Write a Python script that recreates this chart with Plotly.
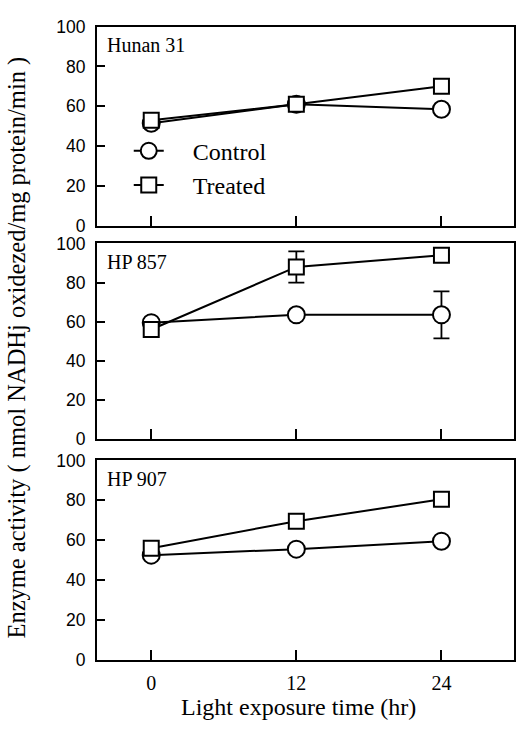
import plotly.graph_objects as go

W, H = 516, 735

hours = [0, 12, 24]
x_ticks = [0, 12, 24]
y_ticks = [0, 20, 40, 60, 80, 100]

panels = ["Hunan 31", "HP 857", "HP 907"]

hunan_control = [51.5, 61, 58.5]
hunan_treated = [53, 61, 70]

hp857_control = [59.5, 63.5, 63.5]
hp857_treated = [56, 88, 94]
hp857_control_err = [0, 0, 12]
hp857_treated_err = [0, 8, 0]

hp907_control = [52.5, 55.5, 59.5]
hp907_treated = [56, 69.5, 80.5]

control_data = [hunan_control, hp857_control, hp907_control]
treated_data = [hunan_treated, hp857_treated, hp907_treated]
control_err = [None, hp857_control_err, None]
treated_err = [None, hp857_treated_err, None]

# pixel layout of panels (top, bottom)
panel_px = [(17, 222), (240, 441), (463, 668)]
x_px = (97, 515)

SERIF = "Liberation Serif, Times New Roman, serif"
SANS = "Liberation Sans, Arial, sans-serif"
PAD = "\u00a0" * 4

fig = go.Figure()

for i in range(3):
    ax = "" if i == 0 else str(i + 1)
    xref = "x" + ax
    yref = "y" + ax
    ce = control_err[i]
    te = treated_err[i]
    fig.add_trace(go.Scatter(
        x=hours, y=control_data[i], mode="lines+markers", name=PAD + "Control",
        xaxis=xref, yaxis=yref, showlegend=(i == 0),
        line=dict(color="black", width=2),
        marker=dict(symbol="circle", size=17, color="white",
                    line=dict(color="black", width=2)),
        error_y=(dict(type="data", array=ce, visible=True, color="black",
                      thickness=1.8, width=8) if ce else None),
        cliponaxis=False,
    ))
    fig.add_trace(go.Scatter(
        x=hours, y=treated_data[i], mode="lines+markers", name=PAD + "Treated",
        xaxis=xref, yaxis=yref, showlegend=(i == 0),
        line=dict(color="black", width=2),
        marker=dict(symbol="square", size=15, color="white",
                    line=dict(color="black", width=2)),
        error_y=(dict(type="data", array=te, visible=True, color="black",
                      thickness=1.8, width=8) if te else None),
        cliponaxis=False,
    ))

    top, bot = panel_px[i]
    fig.layout["xaxis" + ax] = dict(
        domain=[x_px[0] / W, x_px[1] / W], range=[-4.5, 30],
        tickvals=x_ticks, ticktext=[str(v) for v in x_ticks],
        showticklabels=(i == 2), ticks="inside", ticklen=10, tickwidth=1.5,
        tickcolor="black", showline=True, linecolor="black", linewidth=1.5,
        mirror=True, showgrid=False, zeroline=False, ticklabelstandoff=4,
        tickfont=dict(family=SERIF, size=20, color="black"),
        anchor="y" + ax,
    )
    fig.layout["yaxis" + ax] = dict(
        domain=[(H - bot) / H, (H - top) / H], range=[0, 100],
        tickvals=y_ticks, ticks="inside", ticklen=8, tickwidth=1.5,
        tickcolor="black", showline=True, linecolor="black", linewidth=1.5,
        mirror=True, showgrid=False, zeroline=False, ticklabelstandoff=6,
        tickfont=dict(family=SANS, size=17.5, color="black"),
        anchor="x" + ax,
    )
    fig.add_annotation(
        text=panels[i], xref="x" + ax + " domain", yref="y" + ax + " domain",
        x=0.02, y=0.905, xanchor="left", yanchor="middle", showarrow=False,
        font=dict(family=SERIF, size=20, color="black"),
    )

fig.add_annotation(
    text="Enzyme activity ( nmol NADHj oxidezed/mg protein/min )",
    xref="paper", yref="paper", x=17 / W, y=(H - 347) / H,
    textangle=-90, showarrow=False, xanchor="center", yanchor="middle",
    font=dict(family=SERIF, size=24.5, color="black"),
)
fig.add_annotation(
    text="Light exposure time (hr)",
    xref="paper", yref="paper", x=299 / W, y=(H - 717) / H,
    showarrow=False, xanchor="center", yanchor="middle",
    font=dict(family=SERIF, size=24, color="black"),
)

fig.update_layout(
    width=W, height=H,
    margin=dict(l=0, r=0, t=0, b=0),
    paper_bgcolor="white", plot_bgcolor="white",
    showlegend=True,
    legend=dict(x=129 / W, y=(H - 122) / H, xanchor="left", yanchor="top",
                bgcolor="rgba(0,0,0,0)",
                font=dict(family=SERIF, size=24, color="black")),
)

fig.write_html("out.html")
